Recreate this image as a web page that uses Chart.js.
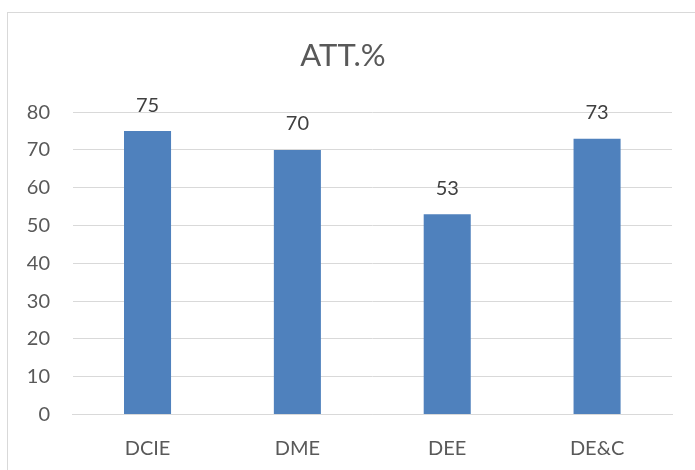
<!DOCTYPE html>
<html>
<head>
<meta charset="utf-8">
<title>ATT.%</title>
<script src="https://cdn.jsdelivr.net/npm/chart.js@4"></script>
<style>
  html, body { margin: 0; padding: 0; background: #fff; overflow: hidden; }
  #frame { position: absolute; left: 7px; top: 12px; width: 700px; height: 470px; border: 1px solid #d9d9d9; }
  #wrap { position: absolute; left: 0; top: 0; width: 695px; height: 470px; }
</style>
</head>
<body>
<div id="frame"></div>
<div id="wrap"><canvas id="attChart" width="695" height="470"></canvas></div>
<script>
// Chart data
const departments = ['DCIE', 'DME', 'DEE', 'DE&C'];
const attendance = [75, 70, 53, 73];
const yTicks = [0, 10, 20, 30, 40, 50, 60, 70, 80];

// Draws the value above each bar (like Excel data labels)
const valueLabels = {
    id: 'valueLabels',
    afterDatasetsDraw(chart) {
        const ctx = chart.ctx;
        const meta = chart.getDatasetMeta(0);
        ctx.save();
        ctx.font = '20px Lato';
        ctx.fillStyle = '#404040';
        ctx.textAlign = 'center';
        ctx.textBaseline = 'middle';
        meta.data.forEach((bar, i) => {
            ctx.fillText(attendance[i], bar.x, bar.y - 26);
        });
        ctx.restore();
    }
};

const ctx = document.getElementById('attChart').getContext('2d');
new Chart(ctx, {
    type: 'bar',
    data: {
        labels: departments,
        datasets: [{
            label: 'ATT.%',
            data: attendance,
            backgroundColor: '#4F81BD',
            borderWidth: 0,
            categoryPercentage: 1,
            barPercentage: 0.314
        }]
    },
    options: {
        responsive: false,
        animation: false,
        layout: { padding: { left: 14, right: 23, top: 0, bottom: 0 } },
        plugins: {
            legend: { display: false },
            tooltip: { enabled: false },
            title: {
                display: true,
                text: 'ATT.%',
                color: '#595959',
                font: { family: 'Lato', size: 31, weight: 'normal', lineHeight: 1.2 },
                padding: { top: 37, bottom: 38 }
            }
        },
        scales: {
            x: {
                grid: { display: false },
                border: { display: true, color: '#d9d9d9', width: 1 },
                ticks: { color: '#595959', font: { family: 'Lato', size: 20 }, padding: 14 },
                afterFit(scale) { scale.height = 55.5; }
            },
            y: {
                min: 0,
                max: 80,
                afterBuildTicks(scale) { scale.ticks = yTicks.map(v => ({ value: v })); },
                grid: { color: '#d9d9d9', drawTicks: false },
                border: { display: false },
                ticks: { color: '#595959', font: { family: 'Lato', size: 20 }, padding: 22.6 },
                afterFit(scale) { scale.width = 58.6; }
            }
        }
    },
    plugins: [valueLabels]
});
</script>
</body>
</html>
